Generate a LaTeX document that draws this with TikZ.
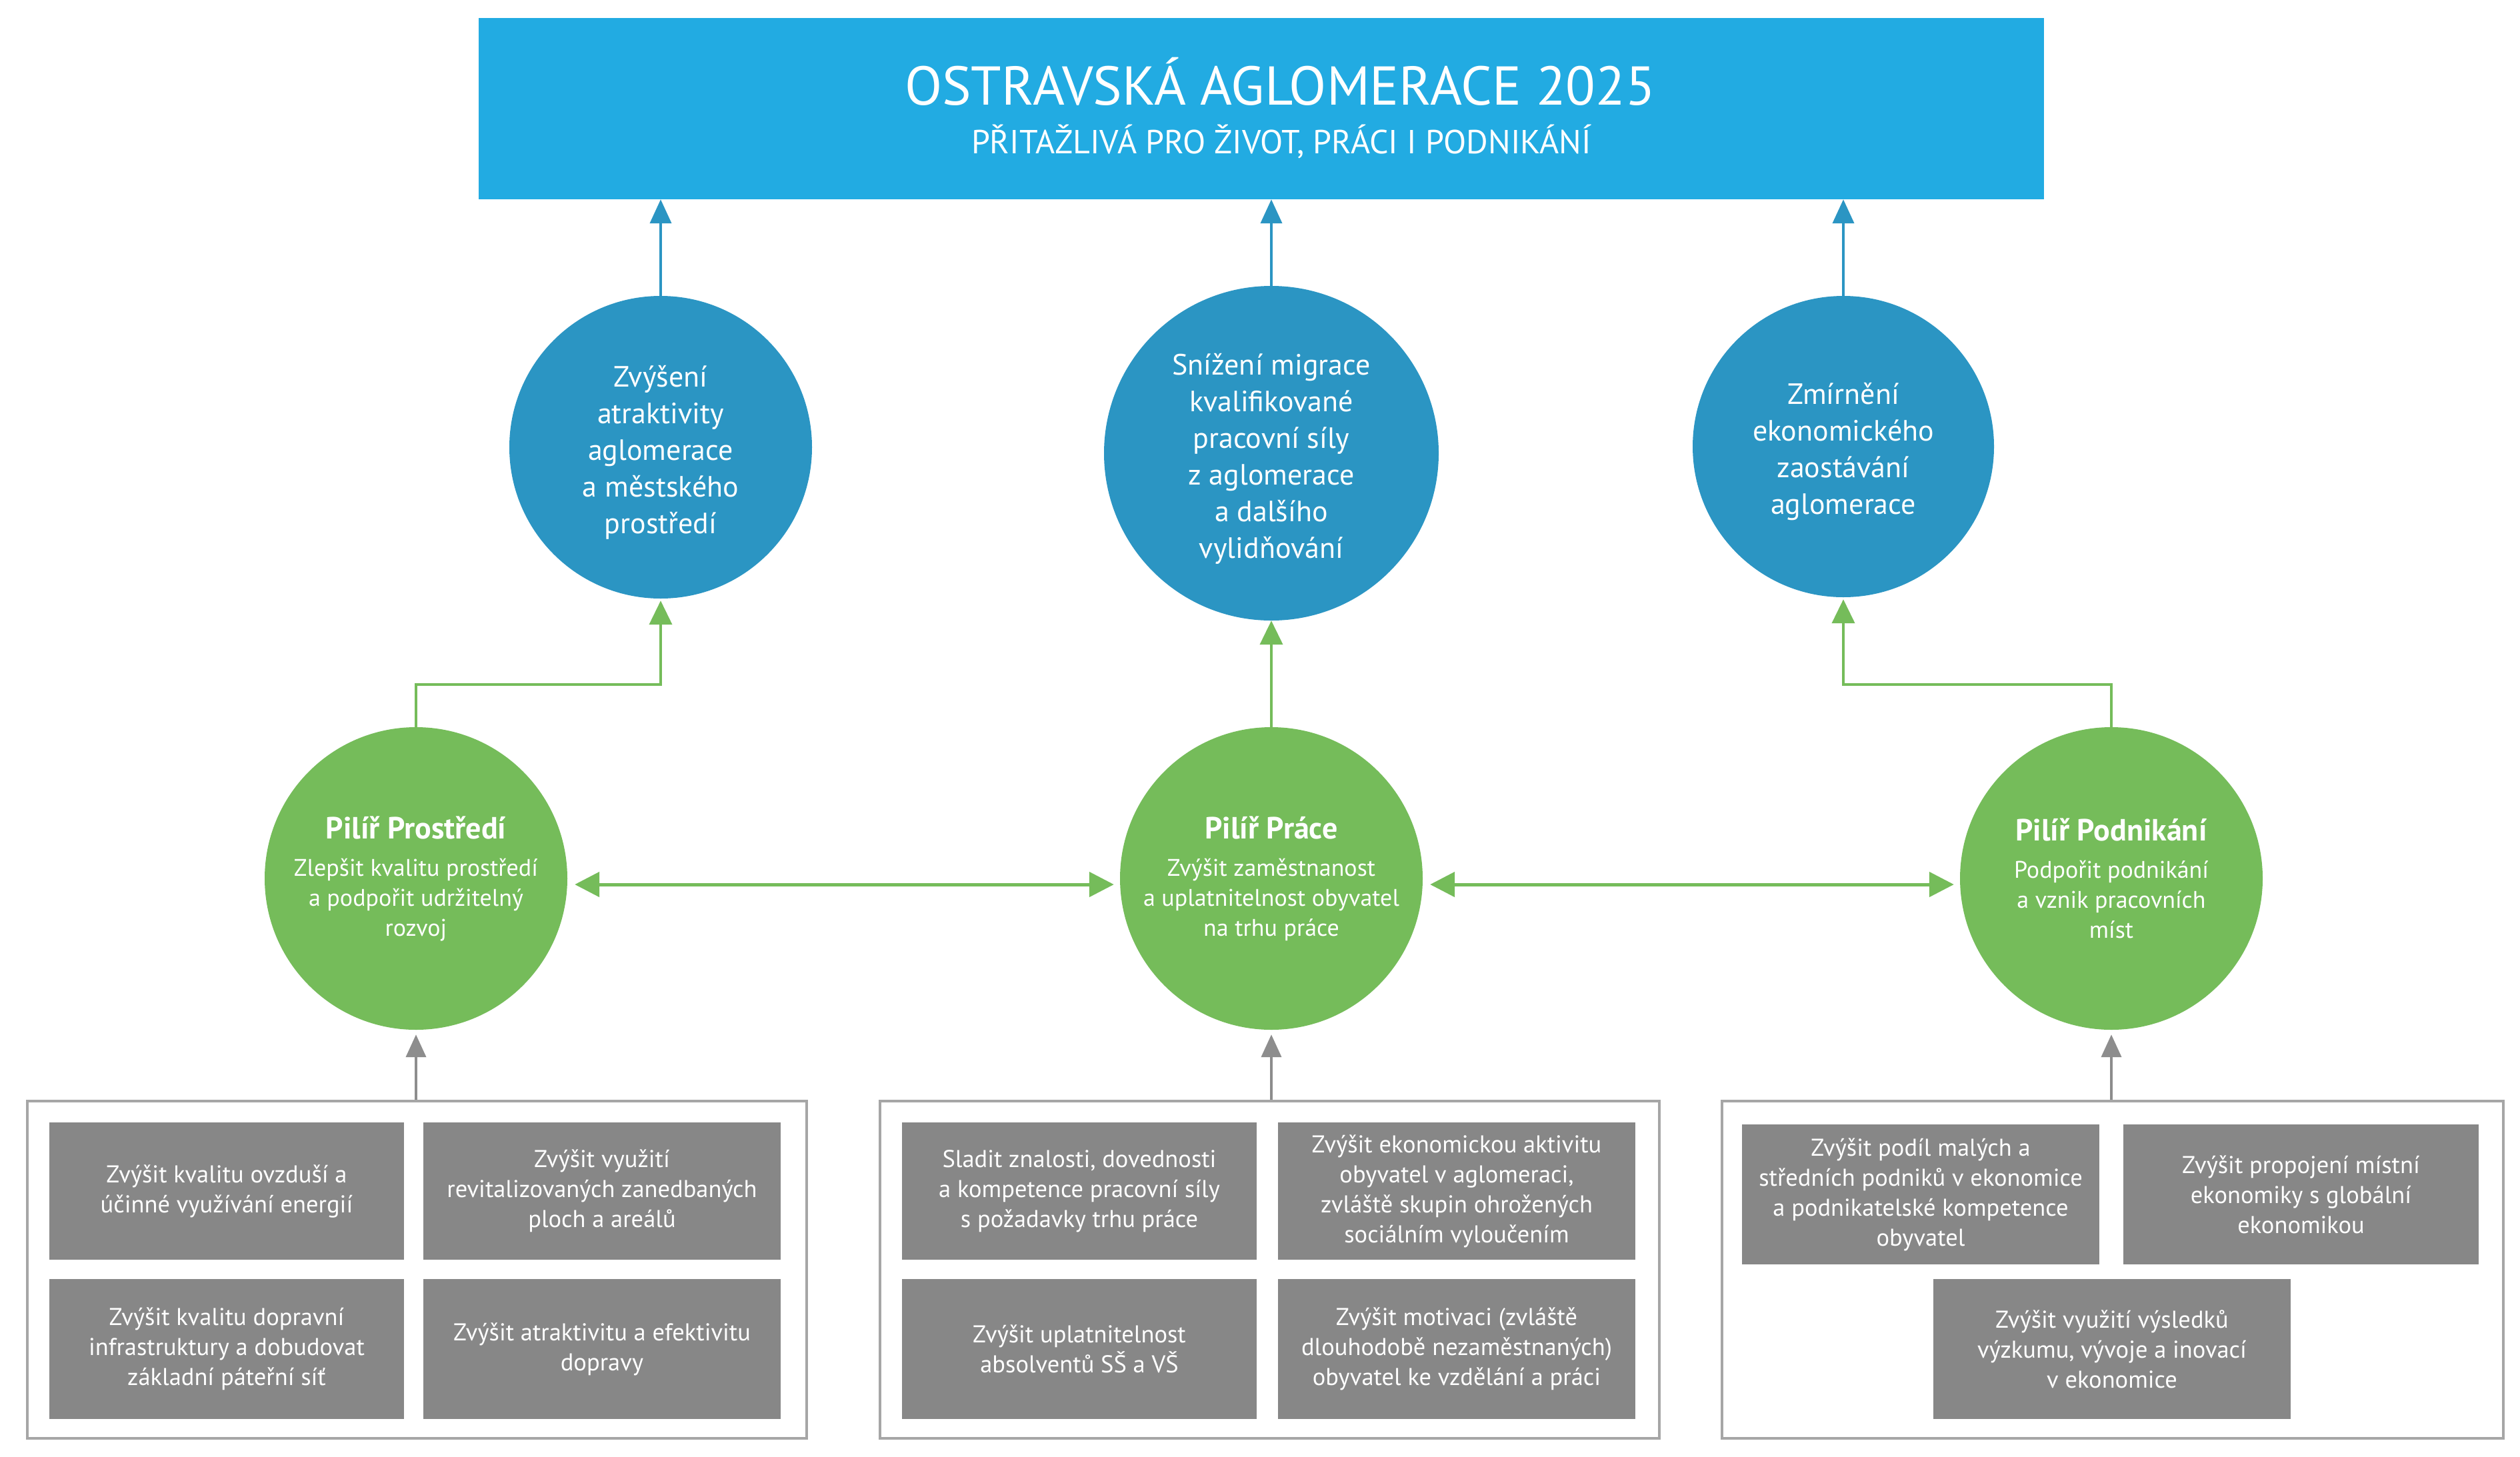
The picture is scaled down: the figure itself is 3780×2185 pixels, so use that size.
\documentclass[tikz,border=0pt]{standalone}
\usepackage{fontspec}
\setmainfont{PT Sans}
\usetikzlibrary{arrows.meta}
\definecolor{bannerc}{HTML}{22ABE2}
\definecolor{bluec}{HTML}{2B95C3}
\definecolor{greenc}{HTML}{75BC5A}
\definecolor{grayb}{HTML}{878787}
\definecolor{grayl}{HTML}{A6A6A6}
\newcommand{\topstrut}{\rule{0pt}{48pt}}
\begin{document}
\begin{tikzpicture}[x=1pt,y=-1pt,
  bcirc/.style={circle, fill=bluec, text=white, inner sep=0pt, align=center, font=\fontsize{44}{55}\selectfont},
  gcirc/.style={circle, fill=greenc, minimum size=454pt, text=white, inner sep=0pt, align=center, font=\fontsize{36}{45}\selectfont},
  gbox/.style={rectangle, fill=grayb, text=white, inner sep=0pt, align=center, font=\fontsize{36.5}{45}\selectfont},
  cont/.style={rectangle, draw=grayl, line width=4pt, fill=white, inner sep=0pt, minimum height=506pt},
  barrow/.style={draw=bluec, line width=4pt, -{Triangle[length=36pt,width=32pt]}},
  garrow/.style={draw=greenc, line width=4pt, -{Triangle[length=36pt,width=34pt]}},
  gdarrow/.style={draw=greenc, line width=5pt, {Triangle[length=37pt,width=37pt]}-{Triangle[length=37pt,width=37pt]}, shorten <=11pt, shorten >=9pt},
  grarrow/.style={draw=grayl, line width=4pt, -{Triangle[length=34pt,width=30pt]}, color=grayl!85!black},
  headfont/.style={font=\bfseries\fontsize{46}{45}\selectfont}
]
\useasboundingbox (0,0) rectangle (3780,2185);

% banner
\node[rectangle, fill=bannerc, minimum width=2348pt, minimum height=272pt, inner sep=0pt] (banner) at (1892,163) {};
\node[anchor=base, text=white, font=\fontsize{82}{90}\selectfont] (title) at (1920,157) {OSTRAVSKÁ AGLOMERACE 2025};
\node[anchor=base, text=white, font=\fontsize{50}{55}\selectfont] (subtitle) at (1922,230) {PŘITAŽLIVÁ PRO ŽIVOT, PRÁCI I PODNIKÁNÍ};

% blue circles
\node[bcirc, minimum size=454pt] (bL) at (991,671) {\topstrut Zvýšení\\ atraktivity\\ aglomerace\\ a městského\\ prostředí};
\node[bcirc, minimum size=502pt] (bM) at (1907,680) {\topstrut Snížení migrace\\ kvalifikované\\ pracovní síly\\ z aglomerace\\ a dalšího\\ vylidňování};
\node[bcirc, minimum size=452pt] (bR) at (2765,670) {\topstrut Zmírnění\\ ekonomického\\ zaostávání\\ aglomerace};

% green circles
\node[gcirc] (gL) at (624,1318) {{\bfseries\fontsize{46}{45}\selectfont Pilíř Prostředí}\\[11pt] Zlepšit kvalitu prostředí\\ a podpořit udržitelný\\ rozvoj};
\node[gcirc] (gM) at (1907,1318) {{\bfseries\fontsize{46}{45}\selectfont Pilíř Práce}\\[11pt] Zvýšit zaměstnanost\\ a uplatnitelnost obyvatel\\ na trhu práce};
\node[gcirc] (gR) at (3167,1318) {{\bfseries\fontsize{46}{45}\selectfont Pilíř Podnikání}\\[11pt] Podpořit podnikání\\ a vznik pracovních\\ míst};

% containers
\node[cont, minimum width=1169pt] (cL) at (625.5,1905) {};
\node[cont, minimum width=1169pt] (cM) at (1904.5,1905) {};
\node[cont, minimum width=1172pt] (cR) at (3169,1905) {};

% boxes left
\node[gbox, minimum width=532pt, minimum height=206pt] (l1) at (340,1787) {Zvýšit kvalitu ovzduší a\\ účinné využívání energií};
\node[gbox, minimum width=536pt, minimum height=206pt] (l2) at (903,1787) {Zvýšit využití\\ revitalizovaných zanedbaných\\ ploch a areálů};
\node[gbox, minimum width=532pt, minimum height=210pt] (l3) at (340,2024) {Zvýšit kvalitu dopravní\\ infrastruktury a dobudovat\\ základní páteřní síť};
\node[gbox, minimum width=536pt, minimum height=210pt] (l4) at (903,2024) {Zvýšit atraktivitu a efektivitu\\ dopravy};

% boxes middle
\node[gbox, minimum width=532pt, minimum height=206pt] (m1) at (1619,1787) {Sladit znalosti, dovednosti\\ a kompetence pracovní síly\\ s požadavky trhu práce};
\node[gbox, minimum width=536pt, minimum height=206pt] (m2) at (2185,1787) {Zvýšit ekonomickou aktivitu\\ obyvatel v aglomeraci,\\ zvláště skupin ohrožených\\ sociálním vyloučením};
\node[gbox, minimum width=532pt, minimum height=210pt] (m3) at (1619,2024) {Zvýšit uplatnitelnost\\ absolventů SŠ a VŠ};
\node[gbox, minimum width=536pt, minimum height=210pt] (m4) at (2185,2024) {Zvýšit motivaci (zvláště\\ dlouhodobě nezaměstnaných)\\ obyvatel ke vzdělání a práci};

% boxes right
\node[gbox, minimum width=536pt, minimum height=210pt] (r1) at (2881,1792) {Zvýšit podíl malých a\\ středních podniků v ekonomice\\ a podnikatelské kompetence\\ obyvatel};
\node[gbox, minimum width=533pt, minimum height=210pt] (r2) at (3451.5,1792) {Zvýšit propojení místní\\ ekonomiky s globální\\ ekonomikou};
\node[gbox, minimum width=536pt, minimum height=210pt] (r3) at (3168,2024) {Zvýšit využití výsledků\\ výzkumu, vývoje a inovací\\ v ekonomice};

% blue arrows to banner
\draw[barrow] (bL.north) -- (bL.north |- banner.south);
\draw[barrow] (bM.north) -- (bM.north |- banner.south);
\draw[barrow] (bR.north) -- (bR.north |- banner.south);

% green arrows to blue circles
\coordinate (kL) at (991,1027);
\coordinate (kR) at (2765,1027);
\draw[garrow, shorten >=3pt] (gL.north) |- (kL) -- (bL.south);
\draw[garrow] (gM.north) -- (bM.south);
\draw[garrow, shorten >=3pt] (gR.north) |- (kR) -- (bR.south);

% double arrows between pillars
\draw[gdarrow] ([yshift=-9pt]gL.east) -- ([yshift=-9pt]gM.west);
\draw[gdarrow] ([yshift=-9pt]gM.east) -- ([yshift=-9pt]gR.west);

% gray arrows from containers
\draw[grarrow, shorten >=7pt] (gL.south |- cL.north) -- (gL.south);
\draw[grarrow, shorten >=7pt] (gM.south |- cM.north) -- (gM.south);
\draw[grarrow, shorten >=7pt] (gR.south |- cR.north) -- (gR.south);
\end{tikzpicture}
\end{document}
